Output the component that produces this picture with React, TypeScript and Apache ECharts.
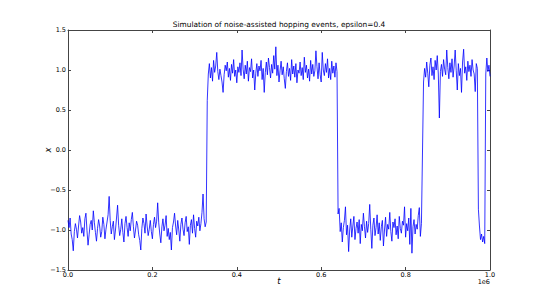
import React, { useEffect, useRef } from "react";
import * as echarts from "echarts";

const TITLE = "Simulation of noise-assisted hopping events, epsilon=0.4";
const STEP = 2500;

const X_TICKS_MIN = 0;
const X_TICKS_MAX = 1000000;
const X_INTERVAL = 200000;
const Y_MIN = -1.5;
const Y_MAX = 1.5;
const Y_INTERVAL = 0.5;

// segment start times
const segStarts = [0, 330000, 640000, 842500, 972500, 990000];

// low state 0 .. 0.3275e6
const seg1Low = [
  -0.88, -0.97, -0.85, -1.05, -1.12, -1.26, -1.02, -0.92, -0.99, -1.10,
  -0.95, -0.82, -0.90, -1.04, -0.97, -1.08, -0.86, -0.79, -1.01, -1.19,
  -1.06, -0.93, -0.88, -1.00, -0.76, -0.91, -1.03, -1.14, -0.98, -0.87,
  -0.95, -1.09, -1.02, -0.84, -0.93, -1.11, -0.99, -0.90, -0.81, -0.58,
  -0.88, -1.05, -0.96, -0.89, -1.12, -1.00, -0.85, -0.69, -0.94, -1.07,
  -0.99, -0.86, -1.03, -1.15, -0.92, -0.83, -0.97, -1.08, -0.91, -1.01,
  -0.87, -0.78, -0.96, -1.10, -1.00, -0.89, -0.94, -1.06, -1.13, -1.25,
  -0.98, -0.85, -0.92, -1.04, -0.80, -0.95, -1.07, -0.99, -0.88, -1.02,
  -1.11, -0.93, -0.84, -0.97, -0.89, -0.66, -0.91, -1.05, -1.16, -0.96,
  -0.86, -1.01, -0.94, -0.82, -1.08, -0.98, -1.12, -1.03, -1.25, -0.97,
  -0.90, -0.79, -0.95, -1.06, -0.88, -1.00, -1.14, -0.93, -0.85, -0.99,
  -1.07, -0.91, -0.83, -1.02, -0.96, -1.18, -0.94, -0.87, -1.04, -0.81,
  -0.98, -1.09, -0.89, -0.95, -0.84, -1.01, -0.92, -0.78, -0.55, -0.86,
  -0.96, -0.90,
];

// high state 0.33e6 .. 0.6375e6
const seg2High = [
  0.62, 0.95, 1.08, 0.90, 1.03, 0.86, 1.12, 0.97, 1.05, 1.22,
  0.98, 0.88, 1.01, 0.93, 0.85, 0.72, 0.94, 1.06, 0.99, 1.10,
  0.91, 1.02, 0.87, 1.07, 0.96, 1.13, 0.92, 1.00, 0.84, 1.04,
  0.97, 1.09, 0.93, 1.25, 1.01, 0.89, 1.06, 0.95, 1.11, 0.86,
  1.03, 0.98, 1.14, 0.90, 1.00, 0.75, 0.96, 1.08, 0.92, 1.05,
  0.99, 1.12, 0.88, 1.02, 0.72, 0.97, 1.10, 0.94, 1.15, 1.03,
  0.90, 1.07, 0.96, 1.18, 1.01, 1.29, 0.93, 1.06, 0.85, 0.99,
  1.11, 0.94, 1.04, 0.89, 0.77, 0.98, 1.09, 0.92, 1.02, 0.87,
  1.13, 0.95, 1.05, 0.91, 1.08, 0.84, 1.00, 0.96, 1.10, 0.93,
  1.03, 0.88, 1.16, 0.97, 1.06, 0.90, 1.01, 0.86, 1.12, 0.95,
  1.07, 0.92, 0.99, 1.24, 1.04, 0.89, 1.09, 0.94, 0.85, 1.22,
  1.00, 0.93, 1.08, 0.97, 1.14, 0.90, 1.02, 0.88, 1.11, 0.96,
  1.05, 0.91, 1.09, 0.98,
];

// low state 0.64e6 .. 0.8375e6
const seg3Low = [
  -0.80, -0.73, -1.02, -0.91, -1.15, -0.97, -0.88, -0.71, -1.06, -0.94,
  -1.27, -1.00, -0.86, -1.09, -0.95, -0.83, -1.12, -0.98, -0.90, -1.04,
  -0.87, -1.17, -0.93, -1.01, -0.79, -0.96, -1.10, -0.89, -1.03, -0.92,
  -0.68, -0.99, -1.23, -0.94, -0.85, -1.07, -0.97, -0.81, -1.05, -0.91,
  -1.13, -0.96, -0.88, -1.20, -1.00, -0.84, -1.08, -0.93, -0.99, -0.78,
  -1.02, -1.14, -0.90, -0.97, -0.86, -1.06, -0.95, -1.11, -0.83, -0.98,
  -1.04, -0.89, -0.94, -0.71, -1.09, -0.92, -1.01, -0.85, -1.18, -0.73,
  -1.29, -0.96, -0.87, -1.05, -0.93, -0.99, -0.82, -0.72, -1.08, -0.92,
];

// high state 0.8425e6 .. 0.97e6
const seg4High = [
  0.85, 1.02, 0.91, 1.10, 0.96, 0.79, 1.06, 1.15, 0.93, 1.04,
  0.88, 1.12, 1.00, 1.18, 0.95, 0.40, 0.98, 1.07, 0.92, 1.13,
  1.01, 0.94, 1.25, 1.03, 0.89, 1.09, 0.97, 1.14, 0.91, 1.05,
  1.25, 0.99, 0.75, 1.08, 0.93, 1.02, 0.72, 1.10, 1.26, 0.96,
  1.04, 0.87, 1.11, 0.98, 1.06, 0.92, 1.13, 1.00, 0.95, 0.73,
  1.08, 1.02,
];

// low state 0.9725e6 .. 0.9875e6
const seg5Low = [-0.74, -0.95, -1.12, -1.05, -1.15, -1.08, -1.17];

// high state 0.99e6 .. 1.0e6
const seg6High = [0.95, 1.15, 0.98, 1.06, 0.92];

const segments = [seg1Low, seg2High, seg3Low, seg4High, seg5Low, seg6High];

const FONT = "DejaVu Sans";

export default function App() {
  const ref = useRef<HTMLDivElement>(null);

  useEffect(() => {
    if (!ref.current) return;
    const chart = echarts.init(ref.current, undefined, { renderer: "svg" });

    const data: [number, number][] = [];
    segments.forEach((seg, s) => {
      seg.forEach((v, i) => {
        data.push([segStarts[s] + i * STEP, v]);
      });
    });

    const frame = { show: true, onZero: false, lineStyle: { color: "#444", width: 1 } };
    const tick = { show: true, inside: true, length: 3, lineStyle: { color: "#444", width: 1 } };

    chart.setOption({
      animation: false,
      backgroundColor: "#fff",
      grid: { left: 68, right: 55, top: 30, bottom: 30, containLabel: false },
      xAxis: [
        {
          type: "value",
          min: X_TICKS_MIN,
          max: X_TICKS_MAX,
          interval: X_INTERVAL,
          position: "bottom",
          axisLine: frame,
          axisTick: tick,
          splitLine: { show: false },
          axisLabel: {
            formatter: (v: number) => (v / 1e6).toFixed(1),
            fontSize: 6.5,
            fontFamily: FONT,
            color: "#000",
            margin: 1,
          },
        },
        {
          type: "value",
          min: X_TICKS_MIN,
          max: X_TICKS_MAX,
          interval: X_INTERVAL,
          position: "top",
          axisLine: frame,
          axisTick: tick,
          splitLine: { show: false },
          axisLabel: { show: false },
        },
      ],
      yAxis: [
        {
          type: "value",
          min: Y_MIN,
          max: Y_MAX,
          interval: Y_INTERVAL,
          position: "left",
          axisLine: frame,
          axisTick: tick,
          splitLine: { show: false },
          axisLabel: {
            formatter: (v: number) => (v < 0 ? "\u2212" : "") + Math.abs(v).toFixed(1),
            fontSize: 6.5,
            fontFamily: FONT,
            color: "#000",
            margin: 2,
          },
        },
        {
          type: "value",
          min: Y_MIN,
          max: Y_MAX,
          interval: Y_INTERVAL,
          position: "right",
          axisLine: frame,
          axisTick: tick,
          splitLine: { show: false },
          axisLabel: { show: false },
        },
      ],
      graphic: [
        {
          type: "text",
          x: 279,
          y: 24,
          style: {
            text: TITLE,
            fontSize: 7.4,
            fontFamily: FONT,
            fill: "#000",
            align: "center",
            verticalAlign: "middle",
          },
        },
        {
          type: "text",
          x: 279,
          y: 281,
          style: {
            text: "t",
            fontSize: 8.5,
            fontStyle: "italic",
            fontFamily: FONT,
            fill: "#000",
            align: "center",
            verticalAlign: "middle",
          },
        },
        {
          type: "text",
          x: 48,
          y: 150,
          rotation: Math.PI / 2,
          style: {
            text: "x",
            fontSize: 8.5,
            fontStyle: "italic",
            fontFamily: FONT,
            fill: "#000",
            align: "center",
            verticalAlign: "middle",
          },
        },
        {
          type: "text",
          x: 490,
          y: 282,
          style: {
            text: "1e6",
            fontSize: 6.5,
            fontFamily: FONT,
            fill: "#000",
            align: "right",
            verticalAlign: "middle",
          },
        },
      ],
      series: [
        {
          type: "line",
          xAxisIndex: 0,
          yAxisIndex: 0,
          data,
          showSymbol: false,
          symbol: "none",
          lineStyle: { color: "#0000ff", width: 0.8 },
        },
      ],
    });

    return () => chart.dispose();
  }, []);

  return <div ref={ref} style={{ width: 545, height: 300, margin: -8 }} />;
}
